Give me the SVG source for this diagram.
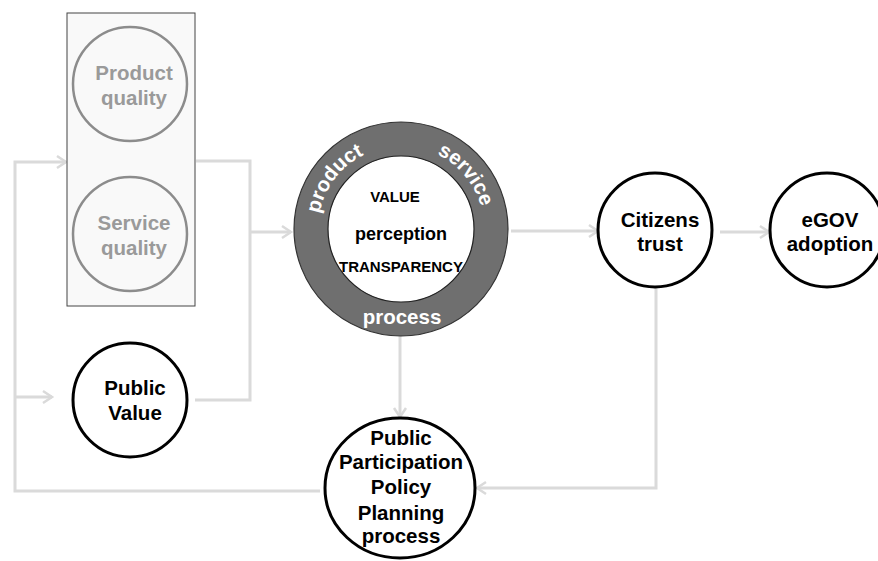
<svg xmlns="http://www.w3.org/2000/svg" width="878" height="561" viewBox="0 0 878 561">
  <style>
    text { font-family: "Liberation Sans", Arial, sans-serif; font-weight: bold; text-anchor: middle; }
    .lbl { font-size: 20.5px; fill: #000; }
    .glbl { font-size: 20.5px; fill: #9a9a9a; }
    .node { fill: #ffffff; stroke: #000; stroke-width: 3; }
    .gnode { fill: none; stroke: #8c8c8c; stroke-width: 2.5; }
    .conn { fill: none; stroke: #dadada; stroke-width: 3; }
    .inner { font-size: 15px; fill: #000; }
    .ringtxt { font-size: 20.5px; fill: #ffffff; }
  </style>
  <defs>
    <marker id="arr" markerUnits="userSpaceOnUse" markerWidth="14" markerHeight="16" refX="11" refY="8" orient="auto">
      <path d="M2,2 L11,8 L2,14" fill="none" stroke="#dadada" stroke-width="2.5"/>
    </marker>
    <path id="ringArc" d="M318,229 A83,83 0 0 1 484,229"/>
  </defs>
  <rect width="878" height="561" fill="#ffffff"/>

  <g id="connectors">
    <!-- left feedback loop -->
    <polyline class="conn" points="320,491 15,491 15,162 66,162" marker-end="url(#arr)"/>
    <polyline class="conn" points="15,397 52,397" marker-end="url(#arr)"/>
    <!-- box and public value to ring -->
    <polyline class="conn" points="196,161 250,161 250,400 195,400"/>
    <polyline class="conn" points="250,232 291,232" marker-end="url(#arr)"/>
    <!-- ring to citizens trust -->
    <polyline class="conn" points="511,231 598,231" marker-end="url(#arr)"/>
    <!-- citizens trust to eGOV -->
    <polyline class="conn" points="720,232 769,232" marker-end="url(#arr)"/>
    <!-- ring down to public participation -->
    <polyline class="conn" points="400,336 400,417" marker-end="url(#arr)"/>
    <!-- citizens trust down/left to public participation -->
    <polyline class="conn" points="656,288 656,488 477,488" marker-end="url(#arr)"/>
  </g>

  <g id="quality-box">
    <rect x="67" y="13" width="128" height="293" fill="#f9f9f9" stroke="#444" stroke-width="1"/>
  </g>

  <g id="product-quality">
    <circle class="gnode" cx="130" cy="84" r="57"/>
    <text class="glbl" x="134" y="80">Product</text>
    <text class="glbl" x="134" y="105">quality</text>
  </g>

  <g id="service-quality">
    <circle class="gnode" cx="130" cy="234" r="57"/>
    <text class="glbl" x="134" y="230">Service</text>
    <text class="glbl" x="134" y="255">quality</text>
  </g>

  <g id="public-value">
    <circle class="node" cx="130" cy="400" r="57"/>
    <text class="lbl" x="135" y="395">Public</text>
    <text class="lbl" x="135" y="420">Value</text>
  </g>

  <g id="value-ring">
    <circle cx="401" cy="229" r="107" fill="#6f6f6f" stroke="#333" stroke-width="1.2"/>
    <circle cx="401" cy="229" r="73" fill="#ffffff" stroke="#222" stroke-width="1.2"/>
    <text class="ringtxt"><textPath href="#ringArc" startOffset="20.6%">product</textPath></text>
    <text class="ringtxt"><textPath href="#ringArc" startOffset="77.8%">service</textPath></text>
    <text class="ringtxt" x="402" y="324">process</text>
    <text class="inner" x="395" y="202">VALUE</text>
    <text class="inner" x="401" y="240" style="font-size:18px">perception</text>
    <text class="inner" x="401" y="272">TRANSPARENCY</text>
  </g>

  <g id="citizens-trust">
    <circle class="node" cx="655" cy="230" r="57"/>
    <text class="lbl" x="660" y="227">Citizens</text>
    <text class="lbl" x="660" y="251">trust</text>
  </g>

  <g id="egov-adoption">
    <circle class="node" cx="827" cy="230" r="57"/>
    <text class="lbl" x="830" y="227">eGOV</text>
    <text class="lbl" x="830" y="251">adoption</text>
  </g>

  <g id="public-participation">
    <ellipse class="node" cx="400" cy="488" rx="75" ry="70"/>
    <text class="lbl" x="401" y="445">Public</text>
    <text class="lbl" x="401" y="469">Participation</text>
    <text class="lbl" x="401" y="494">Policy</text>
    <text class="lbl" x="401" y="520">Planning</text>
    <text class="lbl" x="401" y="543">process</text>
  </g>
</svg>
